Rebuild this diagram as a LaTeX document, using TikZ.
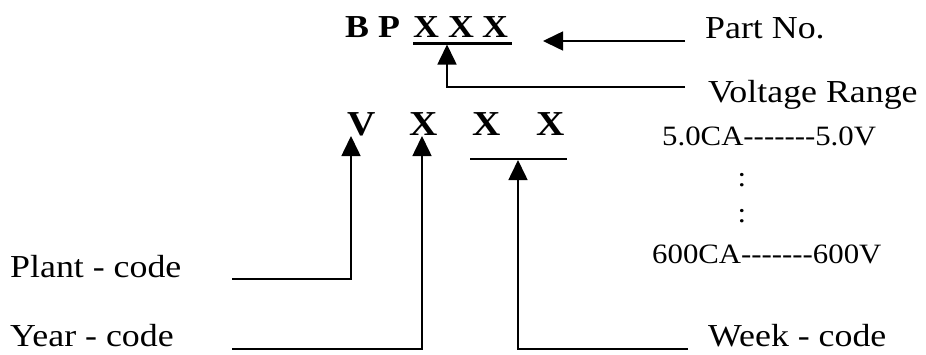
\documentclass[tikz,border=0pt]{standalone}
\usepackage{fontspec}
\setmainfont{Liberation Serif}[FakeStretch=1.12]
\newfontfamily\smallserif{Liberation Serif}[FakeStretch=1.1]
\usetikzlibrary{arrows.meta}
\begin{document}
\begin{tikzpicture}[x=1pt,y=-1pt,
  lbl/.style={anchor=base west,inner sep=0pt,font=\fontsize{32}{36}\selectfont},
  rng/.style={anchor=base west,inner sep=0pt,font=\smallserif\fontsize{28}{30}\selectfont},
  dots/.style={anchor=base,inner sep=0pt,font=\smallserif\fontsize{28}{30}\selectfont},
  codeA/.style={anchor=base west,inner sep=0pt,font=\bfseries\fontsize{32}{36}\selectfont},
  codeB/.style={anchor=base west,inner sep=0pt,font=\bfseries\fontsize{35}{40}\selectfont},
  conn/.style={line width=1.6pt},
  arr/.style={conn,-{Triangle[length=20pt,width=19pt]}},
  uline/.style={line width=3pt},
  uline2/.style={line width=1.8pt}]
\useasboundingbox (0,0) rectangle (926,354);
% top code
\node[codeA] (b) at (345,37) {B};
\node[codeA] (p) at (378,37) {P};
\node[codeA] (x1) at (413,37) {X};
\node[codeA] (x2) at (448,37) {X};
\node[codeA] (x3) at (482,37) {X};
\coordinate (ulA) at (413,43);
\coordinate (ulB) at (512,43);
\draw[uline] (ulA) -- (ulB);
% second code
\node[codeB] (v) at (347,135) {V};
\node[codeB] (y1) at (409,135) {X};
\node[codeB] (w1) at (472,135) {X};
\node[codeB] (w2) at (536,135) {X};
\coordinate (ul2A) at (470,159);
\coordinate (ul2B) at (567,159);
\draw[uline2] (ul2A) -- (ul2B);
% labels
\node[lbl] (partno) at (705,38) {Part No.};
\node[lbl] (volt) at (708,102) {Voltage Range};
\node[rng] (r1) at (662,145) {5.0CA-------5.0V};
\node[dots] (d1) at (742,186) {:};
\node[dots] (d2) at (742,222) {:};
\node[rng] (r2) at (652,263) {600CA-------600V};
\node[lbl] (plant) at (10,277) {Plant - code};
\node[lbl] (year) at (10,346) {Year - code};
\node[lbl] (week) at (708,346) {Week - code};
% connector points
\coordinate (pnS) at (685,41);
\coordinate (pnT) at (543,41);
\coordinate (vrS) at (685,87);
\coordinate (vrT) at (447,44.5);
\coordinate (plS) at (232,279);
\coordinate (plT) at (351,136);
\coordinate (yrS) at (232,349);
\coordinate (yrT) at (422,136);
\coordinate (wkS) at (688,349);
\coordinate (wkT) at (518,160);
% connectors
\draw[arr] (pnS) -- (pnT);
\draw[arr] (vrS) -| (vrT);
\draw[arr] (plS) -| (plT);
\draw[arr] (yrS) -| (yrT);
\draw[arr] (wkS) -| (wkT);
\end{tikzpicture}
\end{document}
